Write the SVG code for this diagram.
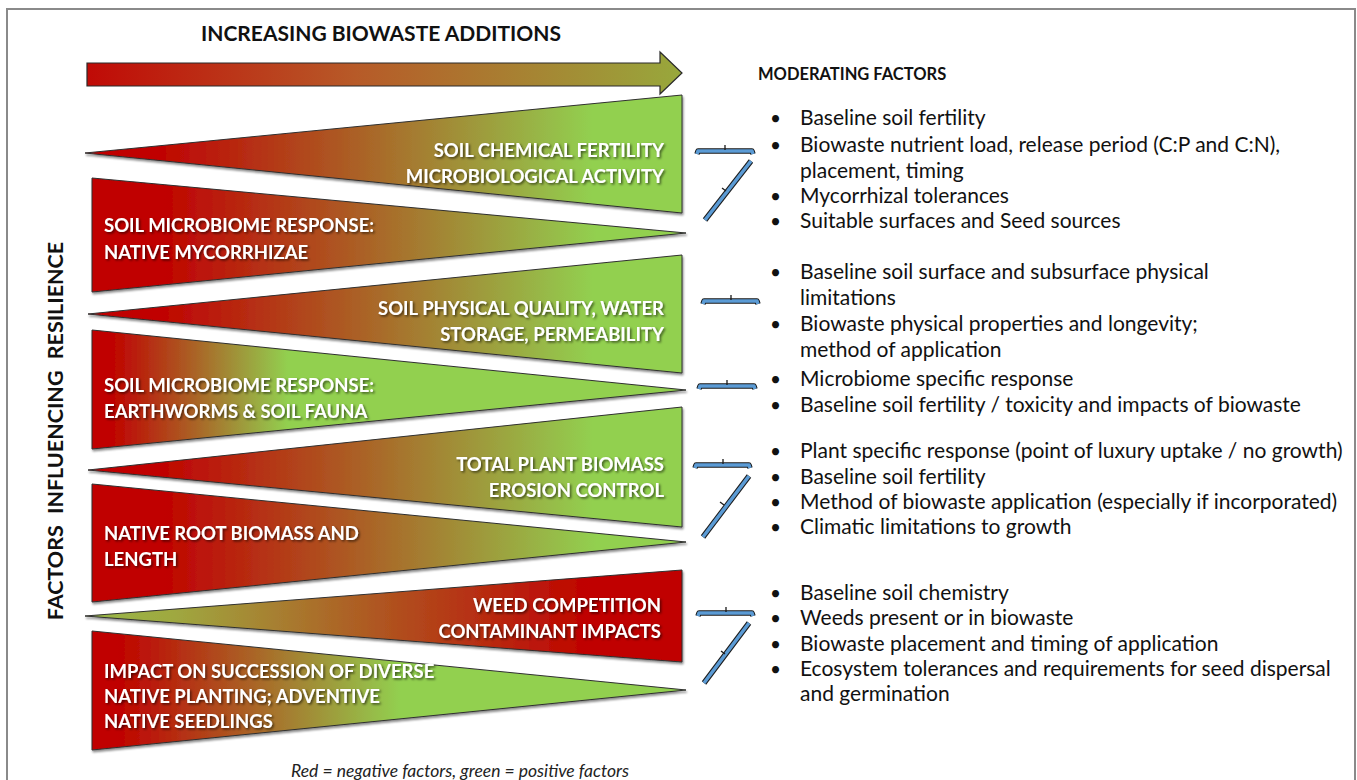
<svg xmlns="http://www.w3.org/2000/svg" width="1357" height="780" viewBox="0 0 1357 780">
  <defs>
    <linearGradient id="gArrow" x1="0" y1="0" x2="1" y2="0">
      <stop offset="0" stop-color="#c00a06"/>
      <stop offset="0.45" stop-color="#b75a28"/>
      <stop offset="1" stop-color="#98a83c"/>
    </linearGradient>
    <!-- red to green, standard spread -->
    <linearGradient id="gRG" x1="0" y1="0" x2="1" y2="0">
      <stop offset="0" stop-color="#c00000"/>
      <stop offset="0.12" stop-color="#c00202"/>
      <stop offset="0.85" stop-color="#92d050"/>
      <stop offset="1" stop-color="#92d050"/>
    </linearGradient>
    <!-- red to green reaching green early -->
    <linearGradient id="gRGfast" x1="0" y1="0" x2="1" y2="0">
      <stop offset="0" stop-color="#c00000"/>
      <stop offset="0.03" stop-color="#c00000"/>
      <stop offset="0.33" stop-color="#92d050"/>
      <stop offset="1" stop-color="#92d050"/>
    </linearGradient>
    <linearGradient id="gRGmid" x1="0" y1="0" x2="1" y2="0">
      <stop offset="0" stop-color="#c00000"/>
      <stop offset="0.04" stop-color="#c00000"/>
      <stop offset="0.52" stop-color="#92d050"/>
      <stop offset="1" stop-color="#92d050"/>
    </linearGradient>
    <!-- green to red -->
    <linearGradient id="gGR" x1="0" y1="0" x2="1" y2="0">
      <stop offset="0" stop-color="#98b848"/>
      <stop offset="0.15" stop-color="#9fa840"/>
      <stop offset="0.85" stop-color="#c00000"/>
      <stop offset="1" stop-color="#c00000"/>
    </linearGradient>
    <filter id="shapeShadow" x="-5%" y="-10%" width="110%" height="130%">
      <feDropShadow dx="1" dy="2" stdDeviation="1.2" flood-color="#000" flood-opacity="0.45"/>
    </filter>
    <filter id="textShadow" x="-5%" y="-20%" width="110%" height="150%">
      <feDropShadow dx="1.5" dy="1.5" stdDeviation="0.9" flood-color="#000" flood-opacity="0.6"/>
    </filter>
  </defs>
  <style>
    .frame { fill: #ffffff; stroke: #8a8a8a; stroke-width: 2; }
    .tri { stroke: #303030; stroke-width: 1; filter: url(#shapeShadow); }
    .lbl { font-family: "Lato", "Open Sans", sans-serif; font-weight: bold; font-size: 18.5px; fill: #ffffff; filter: url(#textShadow); }
    .lbl-r { text-anchor: end; }
    .head { font-family: "Lato", "Open Sans", sans-serif; font-weight: bold; fill: #111111; }
    .item { font-family: "Lato", "Open Sans", sans-serif; font-size: 21px; fill: #111111; }
    .dot { font-family: "Lato", "Open Sans", sans-serif; font-size: 19px; fill: #111111; }
    .note { font-family: "Lato", "Open Sans", sans-serif; font-style: italic; font-size: 17.5px; fill: #222222; }
    .braceOut { fill: none; stroke: #1a1a1a; stroke-width: 5.5; stroke-linejoin: round; }
    .braceIn { fill: none; stroke: #5b9bd5; stroke-width: 3.5; stroke-linejoin: round; }
    .tick { stroke: #1a1a1a; stroke-width: 1.3; }
  </style>

  <rect class="frame" x="7" y="9" width="1348" height="800"/>

  <!-- header and direction arrow -->
  <g id="header">
    <text class="head" x="381" y="41" font-size="21" text-anchor="middle">INCREASING BIOWASTE ADDITIONS</text>
    <path d="M87,63 L660,63 L660,52 L682,73 L660,94 L660,86 L87,86 Z" fill="url(#gArrow)" stroke="#2a2a2a" stroke-width="1.2"/>
  </g>

  <g id="axis-label">
    <text class="head" font-size="21.5" text-anchor="middle" word-spacing="6" transform="translate(63,431) rotate(-90)">FACTORS INFLUENCING RESILIENCE</text>
  </g>

  <!-- wedges -->
  <g id="wedge-chemical">
    <polygon class="tri" points="85,153 682,95 682,213" fill="url(#gRG)"/>
    <text class="lbl lbl-r" x="664" y="157">SOIL CHEMICAL FERTILITY</text>
    <text class="lbl lbl-r" x="664" y="183">MICROBIOLOGICAL ACTIVITY</text>
  </g>
  <g id="wedge-mycorrhizae">
    <polygon class="tri" points="92,178 92,292 686,233" fill="url(#gRG)"/>
    <text class="lbl" x="104" y="232">SOIL MICROBIOME RESPONSE:</text>
    <text class="lbl" x="104" y="259">NATIVE MYCORRHIZAE</text>
  </g>
  <g id="wedge-physical">
    <polygon class="tri" points="88,314 682,255 682,373" fill="url(#gRG)"/>
    <text class="lbl lbl-r" x="664" y="315">SOIL PHYSICAL QUALITY, WATER</text>
    <text class="lbl lbl-r" x="664" y="341">STORAGE, PERMEABILITY</text>
  </g>
  <g id="wedge-fauna">
    <polygon class="tri" points="92,330 92,449 686,390" fill="url(#gRGfast)"/>
    <text class="lbl" x="104" y="392">SOIL MICROBIOME RESPONSE:</text>
    <text class="lbl" x="104" y="418">EARTHWORMS &amp; SOIL FAUNA</text>
  </g>
  <g id="wedge-plant">
    <polygon class="tri" points="88,470 682,407 682,527" fill="url(#gRG)"/>
    <text class="lbl lbl-r" x="664" y="471">TOTAL PLANT BIOMASS</text>
    <text class="lbl lbl-r" x="664" y="497">EROSION CONTROL</text>
  </g>
  <g id="wedge-root">
    <polygon class="tri" points="92,484 92,602 686,542" fill="url(#gRG)"/>
    <text class="lbl" x="104" y="540">NATIVE ROOT BIOMASS AND</text>
    <text class="lbl" x="104" y="566">LENGTH</text>
  </g>
  <g id="wedge-weed">
    <polygon class="tri" points="85,616 682,570 682,662" fill="url(#gGR)"/>
    <text class="lbl lbl-r" x="661" y="612">WEED COMPETITION</text>
    <text class="lbl lbl-r" x="661" y="638">CONTAMINANT IMPACTS</text>
  </g>
  <g id="wedge-succession">
    <polygon class="tri" points="92,631 92,750 686,690" fill="url(#gRGmid)"/>
    <text class="lbl" x="104" y="678">IMPACT ON SUCCESSION OF DIVERSE</text>
    <text class="lbl" x="104" y="703">NATIVE PLANTING; ADVENTIVE</text>
    <text class="lbl" x="104" y="728">NATIVE SEEDLINGS</text>
  </g>

  <!-- braces linking wedges to factor lists -->
  <g id="connectors">
    <path class="braceOut" d="M697,154 L698,151 L752,151 L753,154"/>
    <path class="braceIn" d="M697,154 L698,151 L752,151 L753,154"/>
    <line class="tick" x1="725" y1="150" x2="725" y2="145"/>
    <line class="braceOut" x1="751" y1="161" x2="705" y2="220"/>
    <line class="braceIn" x1="751" y1="161" x2="705" y2="220"/>
    <line class="tick" x1="726" y1="191" x2="722" y2="188"/>

    <path class="braceOut" d="M703,304 L704,301 L757,301 L758,304"/>
    <path class="braceIn" d="M703,304 L704,301 L757,301 L758,304"/>
    <line class="tick" x1="731" y1="300" x2="731" y2="295"/>

    <path class="braceOut" d="M699,389 L700,386 L754,386 L755,389"/>
    <path class="braceIn" d="M699,389 L700,386 L754,386 L755,389"/>
    <line class="tick" x1="727" y1="385" x2="727" y2="380"/>

    <path class="braceOut" d="M695,468 L696,465 L749,465 L750,468"/>
    <path class="braceIn" d="M695,468 L696,465 L749,465 L750,468"/>
    <line class="tick" x1="723" y1="464" x2="723" y2="459"/>
    <line class="braceOut" x1="749" y1="476" x2="703" y2="537"/>
    <line class="braceIn" x1="749" y1="476" x2="703" y2="537"/>
    <line class="tick" x1="724" y1="505" x2="720" y2="502"/>

    <path class="braceOut" d="M698,616 L699,613 L752,613 L753,616"/>
    <path class="braceIn" d="M698,616 L699,613 L752,613 L753,616"/>
    <line class="tick" x1="726" y1="612" x2="726" y2="607"/>
    <line class="braceOut" x1="749" y1="623" x2="704" y2="683"/>
    <line class="braceIn" x1="749" y1="623" x2="704" y2="683"/>
    <line class="tick" x1="725" y1="654" x2="721" y2="651"/>
  </g>

  <!-- moderating factor lists -->
  <g id="factors-title">
    <text class="head" x="758" y="80" font-size="16.5">MODERATING FACTORS</text>
  </g>
  <g id="factors-fertility">
    <text class="dot" x="770" y="125">•</text><text class="item" x="800" y="125">Baseline soil fertility</text>
    <text class="dot" x="770" y="152">•</text><text class="item" x="800" y="152">Biowaste nutrient load, release period (C:P and C:N),</text>
    <text class="item" x="800" y="178">placement, timing</text>
    <text class="dot" x="770" y="203">•</text><text class="item" x="800" y="203">Mycorrhizal tolerances</text>
    <text class="dot" x="770" y="228">•</text><text class="item" x="800" y="228">Suitable surfaces and Seed sources</text>
  </g>
  <g id="factors-physical">
    <text class="dot" x="770" y="279">•</text><text class="item" x="800" y="279">Baseline soil surface and subsurface physical</text>
    <text class="item" x="800" y="305">limitations</text>
    <text class="dot" x="770" y="331">•</text><text class="item" x="800" y="331">Biowaste physical properties and longevity;</text>
    <text class="item" x="800" y="357">method of application</text>
  </g>
  <g id="factors-microbiome">
    <text class="dot" x="770" y="386">•</text><text class="item" x="800" y="386">Microbiome specific response</text>
    <text class="dot" x="770" y="412">•</text><text class="item" x="800" y="412">Baseline soil fertility / toxicity and impacts of biowaste</text>
  </g>
  <g id="factors-plant">
    <text class="dot" x="770" y="458">•</text><text class="item" x="800" y="458">Plant specific response (point of luxury uptake / no growth)</text>
    <text class="dot" x="770" y="484">•</text><text class="item" x="800" y="484">Baseline soil fertility</text>
    <text class="dot" x="770" y="509">•</text><text class="item" x="800" y="509">Method of biowaste application (especially if incorporated)</text>
    <text class="dot" x="770" y="534">•</text><text class="item" x="800" y="534">Climatic limitations to growth</text>
  </g>
  <g id="factors-ecosystem">
    <text class="dot" x="770" y="600">•</text><text class="item" x="800" y="600">Baseline soil chemistry</text>
    <text class="dot" x="770" y="625">•</text><text class="item" x="800" y="625">Weeds present or in biowaste</text>
    <text class="dot" x="770" y="651">•</text><text class="item" x="800" y="651">Biowaste placement and timing of application</text>
    <text class="dot" x="770" y="676">•</text><text class="item" x="800" y="676">Ecosystem tolerances and requirements for seed dispersal</text>
    <text class="item" x="800" y="701">and germination</text>
  </g>

  <g id="legend">
    <text class="note" x="460" y="777" text-anchor="middle">Red = negative factors, green = positive factors</text>
  </g>
</svg>
